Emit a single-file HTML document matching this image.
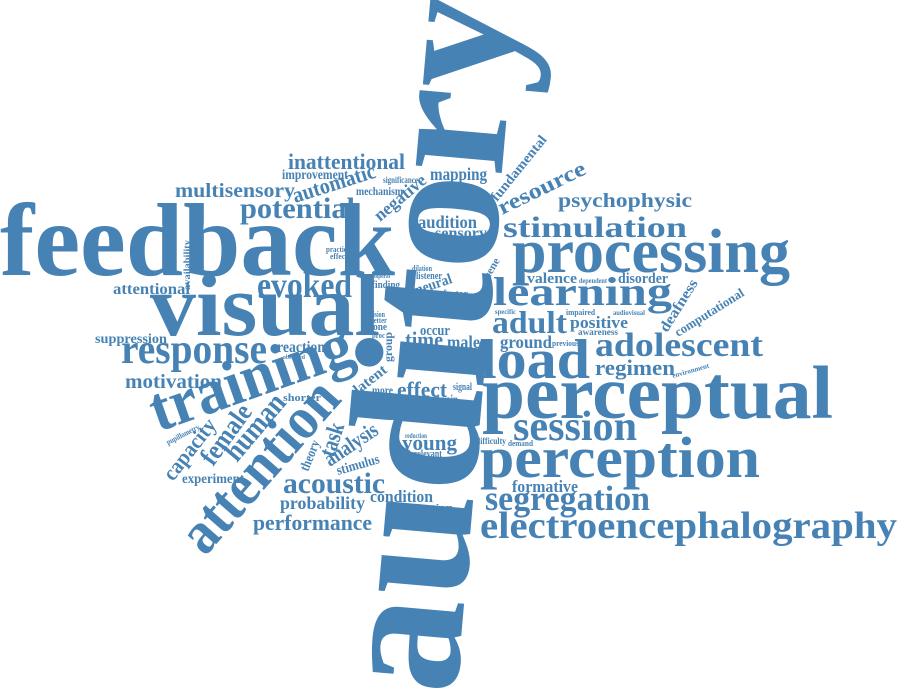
<!DOCTYPE html>
<html><head><meta charset="utf-8"><style>
html,body{margin:0;padding:0;background:#fff;}
svg{display:block;}
text{font-family:"Liberation Serif",serif;font-weight:bold;fill:#4682b4;}
</style></head><body>
<svg width="900" height="699" viewBox="0 0 900 699">
<text transform="translate(456,696) rotate(-85)" font-size="188" textLength="700" lengthAdjust="spacingAndGlyphs">auditory</text>
<text x="0" y="275" font-size="104" textLength="395" lengthAdjust="spacingAndGlyphs">feedback</text>
<text x="150" y="335" font-size="88" textLength="230" lengthAdjust="spacingAndGlyphs">visual</text>
<text x="512" y="272" font-size="62" textLength="278" lengthAdjust="spacingAndGlyphs">processing</text>
<text x="503" y="237" font-size="30" textLength="184" lengthAdjust="spacingAndGlyphs">stimulation</text>
<text x="558" y="207" font-size="20" textLength="134" lengthAdjust="spacingAndGlyphs">psychophysic</text>
<text transform="translate(502,215) rotate(-26)" font-size="22" textLength="95" lengthAdjust="spacingAndGlyphs">resource</text>
<text transform="translate(497,202) rotate(-51)" font-size="14" textLength="80" lengthAdjust="spacingAndGlyphs">fundamental</text>
<text x="527" y="283" font-size="15" textLength="50" lengthAdjust="spacingAndGlyphs">valence</text>
<text x="579" y="283" font-size="7" textLength="28" lengthAdjust="spacingAndGlyphs">dependent</text>
<text x="618" y="283" font-size="15" textLength="50" lengthAdjust="spacingAndGlyphs">disorder</text>
<text x="493" y="305" font-size="40" textLength="179" lengthAdjust="spacingAndGlyphs">learning</text>
<text x="492" y="333" font-size="32" textLength="75" lengthAdjust="spacingAndGlyphs">adult</text>
<text x="570" y="328" font-size="17" textLength="58" lengthAdjust="spacingAndGlyphs">positive</text>
<text x="578" y="335" font-size="9" textLength="40" lengthAdjust="spacingAndGlyphs">awareness</text>
<text x="566" y="315" font-size="8" textLength="29" lengthAdjust="spacingAndGlyphs">impaired</text>
<text x="613" y="315" font-size="7" textLength="32" lengthAdjust="spacingAndGlyphs">audiovisual</text>
<text x="495" y="314" font-size="7" textLength="21" lengthAdjust="spacingAndGlyphs">specific</text>
<text transform="translate(667,333) rotate(-58)" font-size="15" textLength="59" lengthAdjust="spacingAndGlyphs">deafness</text>
<text transform="translate(678,337) rotate(-32)" font-size="13" textLength="79" lengthAdjust="spacingAndGlyphs">computational</text>
<text x="500" y="348" font-size="18" textLength="52" lengthAdjust="spacingAndGlyphs">ground</text>
<text x="552" y="346" font-size="8" textLength="27" lengthAdjust="spacingAndGlyphs">previous</text>
<text x="480" y="378" font-size="56" textLength="110" lengthAdjust="spacingAndGlyphs">load</text>
<text x="595" y="356" font-size="34" textLength="168" lengthAdjust="spacingAndGlyphs">adolescent</text>
<text x="595" y="375" font-size="22" textLength="80" lengthAdjust="spacingAndGlyphs">regimen</text>
<text transform="translate(673,378) rotate(-16)" font-size="7" textLength="38" lengthAdjust="spacingAndGlyphs">environment</text>
<text x="482" y="418" font-size="75" textLength="351" lengthAdjust="spacingAndGlyphs">perceptual</text>
<text x="513" y="440" font-size="42" textLength="124" lengthAdjust="spacingAndGlyphs">session</text>
<text x="476" y="444" font-size="9" textLength="30" lengthAdjust="spacingAndGlyphs">difficulty</text>
<text x="508" y="446" font-size="8" textLength="25" lengthAdjust="spacingAndGlyphs">demand</text>
<text x="480" y="477" font-size="58" textLength="280" lengthAdjust="spacingAndGlyphs">perception</text>
<text x="512" y="492" font-size="17" textLength="66" lengthAdjust="spacingAndGlyphs">formative</text>
<text x="485" y="510" font-size="35" textLength="165" lengthAdjust="spacingAndGlyphs">segregation</text>
<text x="480" y="538" font-size="38" textLength="417" lengthAdjust="spacingAndGlyphs">electroencephalography</text>
<text x="240" y="218" font-size="30" textLength="115" lengthAdjust="spacingAndGlyphs">potential</text>
<text x="175" y="197" font-size="20" textLength="120" lengthAdjust="spacingAndGlyphs">multisensory</text>
<text x="288" y="169" font-size="22" textLength="117" lengthAdjust="spacingAndGlyphs">inattentional</text>
<text x="282" y="179" font-size="14" textLength="66" lengthAdjust="spacingAndGlyphs">improvement</text>
<text transform="translate(295,203) rotate(-17.5)" font-size="22" textLength="86" lengthAdjust="spacingAndGlyphs">automatic</text>
<text x="356" y="195" font-size="12" textLength="47" lengthAdjust="spacingAndGlyphs">mechanism</text>
<text x="383" y="183" font-size="9" textLength="35" lengthAdjust="spacingAndGlyphs">significance</text>
<text x="430" y="180" font-size="18" textLength="57" lengthAdjust="spacingAndGlyphs">mapping</text>
<text transform="translate(380,222) rotate(-40)" font-size="18" textLength="62" lengthAdjust="spacingAndGlyphs">negative</text>
<text x="418" y="228" font-size="18" textLength="59" lengthAdjust="spacingAndGlyphs">audition</text>
<text x="435" y="238" font-size="16" textLength="52" lengthAdjust="spacingAndGlyphs">sensory</text>
<text x="257" y="297" font-size="36" textLength="95" lengthAdjust="spacingAndGlyphs">evoked</text>
<text x="326" y="252" font-size="8" textLength="24" lengthAdjust="spacingAndGlyphs">practice</text>
<text x="330" y="259" font-size="8" textLength="27" lengthAdjust="spacingAndGlyphs">effective</text>
<text transform="translate(306,268) rotate(-90)" font-size="8" textLength="32" lengthAdjust="spacingAndGlyphs">participant</text>
<text x="372" y="288" font-size="11" textLength="28" lengthAdjust="spacingAndGlyphs">finding</text>
<text x="370" y="278" font-size="6" textLength="20" lengthAdjust="spacingAndGlyphs">temporal</text>
<text x="412" y="271" font-size="8" textLength="20" lengthAdjust="spacingAndGlyphs">dilation</text>
<text x="416" y="279" font-size="10" textLength="26" lengthAdjust="spacingAndGlyphs">listener</text>
<text transform="translate(417,295) rotate(-19)" font-size="15" textLength="38" lengthAdjust="spacingAndGlyphs">neural</text>
<text x="443" y="297" font-size="11" textLength="25" lengthAdjust="spacingAndGlyphs">factor</text>
<text transform="translate(487,283) rotate(-60)" font-size="11" textLength="26" lengthAdjust="spacingAndGlyphs">scene</text>
<text transform="translate(190,290) rotate(-90)" font-size="9" textLength="50" lengthAdjust="spacingAndGlyphs">availability</text>
<text x="113" y="294" font-size="16" textLength="77" lengthAdjust="spacingAndGlyphs">attentional</text>
<text x="121" y="363" font-size="42" textLength="146" lengthAdjust="spacingAndGlyphs">response</text>
<text x="95" y="343" font-size="14" textLength="72" lengthAdjust="spacingAndGlyphs">suppression</text>
<text x="125" y="388" font-size="20" textLength="97" lengthAdjust="spacingAndGlyphs">motivation</text>
<text x="277" y="352" font-size="16" textLength="48" lengthAdjust="spacingAndGlyphs">reaction</text>
<text x="283" y="359" font-size="6" textLength="22" lengthAdjust="spacingAndGlyphs">observed</text>
<text transform="translate(158,432) rotate(-19.4)" font-size="64" textLength="211" lengthAdjust="spacingAndGlyphs">training</text>
<text transform="translate(205,557) rotate(-48.7)" font-size="60" textLength="209" lengthAdjust="spacingAndGlyphs">attention</text>
<text transform="translate(237,463) rotate(-50)" font-size="30" textLength="78" lengthAdjust="spacingAndGlyphs">human</text>
<text transform="translate(213,467) rotate(-54)" font-size="27" textLength="68" lengthAdjust="spacingAndGlyphs">female</text>
<text transform="translate(173,482) rotate(-52)" font-size="22" textLength="72" lengthAdjust="spacingAndGlyphs">capacity</text>
<text transform="translate(168,445) rotate(-27)" font-size="8" textLength="36" lengthAdjust="spacingAndGlyphs">pupillometry</text>
<text x="283" y="401" font-size="11" textLength="38" lengthAdjust="spacingAndGlyphs">shorter</text>
<text transform="translate(334,458) rotate(-72)" font-size="24" textLength="34" lengthAdjust="spacingAndGlyphs">task</text>
<text transform="translate(330,467) rotate(-34)" font-size="22" textLength="60" lengthAdjust="spacingAndGlyphs">analysis</text>
<text transform="translate(308,472) rotate(-68)" font-size="14" textLength="32" lengthAdjust="spacingAndGlyphs">theory</text>
<text transform="translate(338,475) rotate(-16)" font-size="14" textLength="44" lengthAdjust="spacingAndGlyphs">stimulus</text>
<text x="182" y="483" font-size="14" textLength="62" lengthAdjust="spacingAndGlyphs">experiment</text>
<text x="283" y="493" font-size="30" textLength="102" lengthAdjust="spacingAndGlyphs">acoustic</text>
<text x="280" y="509" font-size="18" textLength="85" lengthAdjust="spacingAndGlyphs">probability</text>
<text x="253" y="530" font-size="22" textLength="119" lengthAdjust="spacingAndGlyphs">performance</text>
<text x="370" y="502" font-size="17" textLength="63" lengthAdjust="spacingAndGlyphs">condition</text>
<text x="387" y="510" font-size="8" textLength="66" lengthAdjust="spacingAndGlyphs">distribution</text>
<text x="370" y="317" font-size="8" textLength="15" lengthAdjust="spacingAndGlyphs">vision</text>
<text x="370" y="323" font-size="8" textLength="17" lengthAdjust="spacingAndGlyphs">better</text>
<text x="370" y="330" font-size="11" textLength="17" lengthAdjust="spacingAndGlyphs">tone</text>
<text x="372" y="338" font-size="8" textLength="13" lengthAdjust="spacingAndGlyphs">proc</text>
<text transform="translate(392,362) rotate(-90)" font-size="12" textLength="30" lengthAdjust="spacingAndGlyphs">group</text>
<text x="420" y="335" font-size="15" textLength="30" lengthAdjust="spacingAndGlyphs">occur</text>
<text x="405" y="347" font-size="22" textLength="38" lengthAdjust="spacingAndGlyphs">time</text>
<text x="447" y="348" font-size="18" textLength="33" lengthAdjust="spacingAndGlyphs">male</text>
<text transform="translate(358,395) rotate(-38)" font-size="15" textLength="38" lengthAdjust="spacingAndGlyphs">latent</text>
<text x="372" y="394" font-size="12" textLength="21" lengthAdjust="spacingAndGlyphs">more</text>
<text x="372" y="400" font-size="6" textLength="20" lengthAdjust="spacingAndGlyphs">complex</text>
<text x="397" y="397" font-size="22" textLength="50" lengthAdjust="spacingAndGlyphs">effect</text>
<text x="453" y="390" font-size="10" textLength="19" lengthAdjust="spacingAndGlyphs">signal</text>
<text x="398" y="403" font-size="7" textLength="22" lengthAdjust="spacingAndGlyphs">hearing</text>
<text x="437" y="404" font-size="14" textLength="21" lengthAdjust="spacingAndGlyphs">brain</text>
<text x="402" y="450" font-size="22" textLength="55" lengthAdjust="spacingAndGlyphs">young</text>
<text x="408" y="457" font-size="10" textLength="34" lengthAdjust="spacingAndGlyphs">irrelevant</text>
<text x="405" y="438" font-size="7" textLength="22" lengthAdjust="spacingAndGlyphs">reduction</text>
</svg>
</body></html>
